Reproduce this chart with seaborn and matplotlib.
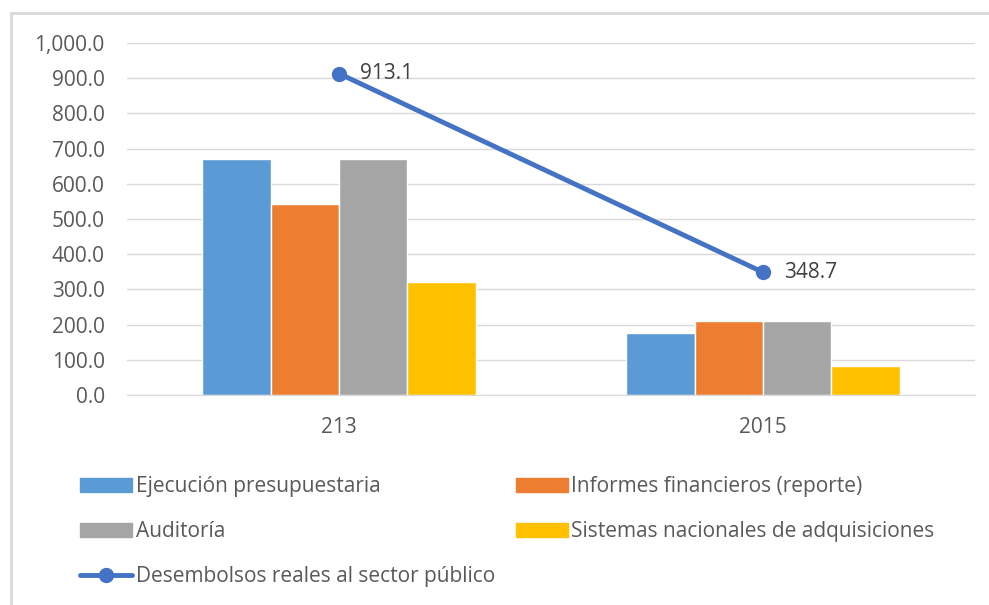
import pandas as pd
import matplotlib.pyplot as plt
import matplotlib.patches as mpatches
import seaborn as sns

# Data
years = ['213', '2015']
series = ['Ejecución presupuestaria', 'Informes financieros (reporte)',
          'Auditoría', 'Sistemas nacionales de adquisiciones']
ejecucion = [671, 177]
informes = [543, 210]
auditoria = [671, 210]
sistemas = [320, 82]
desembolsos = [913.1, 348.7]
line_label = 'Desembolsos reales al sector público'

colors = ['#5B9BD5', '#ED7D31', '#A5A5A5', '#FFC000']
line_color = '#4472C4'
text_color = '#595959'

rows = []
for name, vals in zip(series, [ejecucion, informes, auditoria, sistemas]):
    for yr, v in zip(years, vals):
        rows.append({'Año': yr, 'Serie': name, 'Valor': v})
df = pd.DataFrame(rows)

sns.set_style('white')
plt.rcParams['font.family'] = ['Open Sans', 'DejaVu Sans']

fig = plt.figure(figsize=(9.89, 6.05), dpi=100)
ax = fig.add_axes([127 / 989, 1 - 395 / 605, 848 / 989, 352 / 605])

sns.barplot(data=df, x='Año', y='Valor', hue='Serie', order=years,
            hue_order=series, palette=colors, width=0.646, gap=0,
            saturation=1, ax=ax, legend=False)

# line on the same categorical positions
xpos = list(range(len(years)))
ax.plot(xpos, desembolsos, color=line_color, lw=3.5, marker='o',
        markersize=10, zorder=5)
for x, v in zip(xpos, desembolsos):
    ax.annotate(f'{v:.1f}', (x, v), xytext=(15, 0), textcoords='offset points',
                va='center', ha='left', fontsize=15, color='#404040')

ax.set_ylim(0, 1000)
ax.set_xlim(-0.5, len(years) - 0.5)
ax.set_yticks(range(0, 1001, 100))
ax.set_yticklabels([f'{t:,.1f}' for t in range(0, 1001, 100)])
ax.yaxis.grid(True, color='#D9D9D9', lw=1)
ax.set_axisbelow(True)
for s in ['top', 'right', 'left']:
    ax.spines[s].set_visible(False)
ax.spines['bottom'].set_color('#D9D9D9')
ax.set_xlabel('')
ax.set_ylabel('')
ax.tick_params(axis='both', length=0, labelsize=15, colors=text_color)
ax.tick_params(axis='y', pad=16)
ax.tick_params(axis='x', pad=16)

# legend, column-major order
h = [mpatches.Patch(color=c) for c in colors]
line_h = plt.Line2D([], [], color=line_color, lw=3.5, marker='o', markersize=10)
handles = [h[0], h[2], line_h, h[1], h[3]]
labels = [series[0], series[2], line_label, series[1], series[3]]
leg = fig.legend(handles, labels, ncol=2, loc='upper left',
                 bbox_to_anchor=(72 / 989, 1 - 468 / 605), frameon=False,
                 fontsize=15, handlelength=2.5, handletextpad=0.15,
                 columnspacing=1.0, labelspacing=1.15, borderaxespad=0)
for t in leg.get_texts():
    t.set_color(text_color)

# outer chart border
fig.patches.append(mpatches.Rectangle((11 / 989, -0.1), 1.2, 1 - 13 / 605 + 0.1,
                                      transform=fig.transFigure, fill=False,
                                      edgecolor='#D9D9D9', lw=2))

fig.savefig('out.png', dpi=100)
